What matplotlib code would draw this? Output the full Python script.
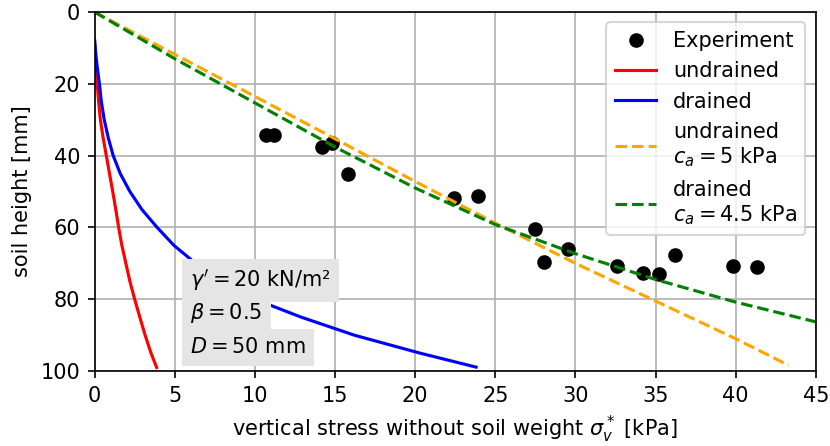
import matplotlib
matplotlib.use("Agg")
import matplotlib.pyplot as plt

# experiment points (stress [kPa], soil height [mm])
exp_stress = [10.7, 11.2, 14.2, 14.8, 15.8, 22.4, 23.9, 27.5, 28.05, 29.55,
              32.6, 34.2, 35.2, 36.2, 39.8, 41.3]
exp_height = [34.3, 34.3, 37.6, 36.6, 45.0, 51.8, 51.2, 60.3, 69.7, 65.9,
              70.6, 72.7, 72.9, 67.8, 70.6, 71.0]

# model curves
undr_height = [8, 12, 16, 20, 25, 30, 35, 40, 45, 50, 55, 60, 65, 70, 75, 80,
               85, 90, 95, 99]
undr_stress = [0.0, 0.04, 0.1, 0.16, 0.25, 0.36, 0.53, 0.73, 0.93, 1.13, 1.32,
               1.5, 1.7, 1.95, 2.2, 2.5, 2.82, 3.15, 3.52, 3.87]

dr_height = [8, 12, 16, 20, 25, 30, 35, 40, 45, 50, 55, 60, 65, 70, 75, 80,
             85, 90, 95, 98.9]
dr_stress = [0.0, 0.08, 0.18, 0.3, 0.42, 0.6, 0.85, 1.16, 1.6, 2.2, 2.95, 3.9,
             4.95, 6.3, 7.9, 10.0, 12.9, 16.2, 20.3, 23.8]

undr_ca_stress = [0, 5, 10, 15, 20, 25, 30, 35, 40, 43.3]
undr_ca_height = [0, 11.8, 23.5, 35.3, 47.2, 58.8, 70.0, 80.5, 91.0, 98.4]

dr_ca_stress = [0, 5, 10, 15, 20, 25, 30, 35, 40, 45]
dr_ca_height = [0, 13.0, 25.3, 37.6, 49.0, 59.2, 67.3, 74.5, 80.8, 86.3]

fig = plt.figure(figsize=(830/150, 446/150), dpi=150)
ax = fig.add_axes([0.114, 0.168, 0.869, 0.805])

ax.plot(exp_stress, exp_height, 'ko', label='Experiment')
ax.plot(undr_stress, undr_height, color='red', label='undrained')
ax.plot(dr_stress, dr_height, color='blue', label='drained')
ax.plot(undr_ca_stress, undr_ca_height, '--', color='orange',
        label='undrained\n$c_a = 5$ kPa')
ax.plot(dr_ca_stress, dr_ca_height, '--', color='green',
        label='drained\n$c_a = 4.5$ kPa')

ax.set_xlim(0, 45)
ax.set_ylim(100, 0)
ax.set_xticks(range(0, 46, 5))
ax.set_yticks(range(0, 101, 20))
ax.grid(True)
ax.set_xlabel(r'vertical stress without soil weight $\sigma_v^*$ [kPa]')
ax.set_ylabel('soil height [mm]')
ax.legend(loc='upper right')

box = dict(facecolor='#e5e5e5', edgecolor='none', pad=4)
ax.text(5.95, 74.7, r"$\gamma' = 20$ kN/m²", ha='left', va='center', bbox=box, zorder=5)
ax.text(5.95, 83.9, r"$\beta = 0.5$", ha='left', va='center', bbox=box, zorder=5)
ax.text(5.95, 93.4, r"$D = 50$ mm", ha='left', va='center', bbox=box, zorder=5)

plt.savefig('out.png', dpi=150)
